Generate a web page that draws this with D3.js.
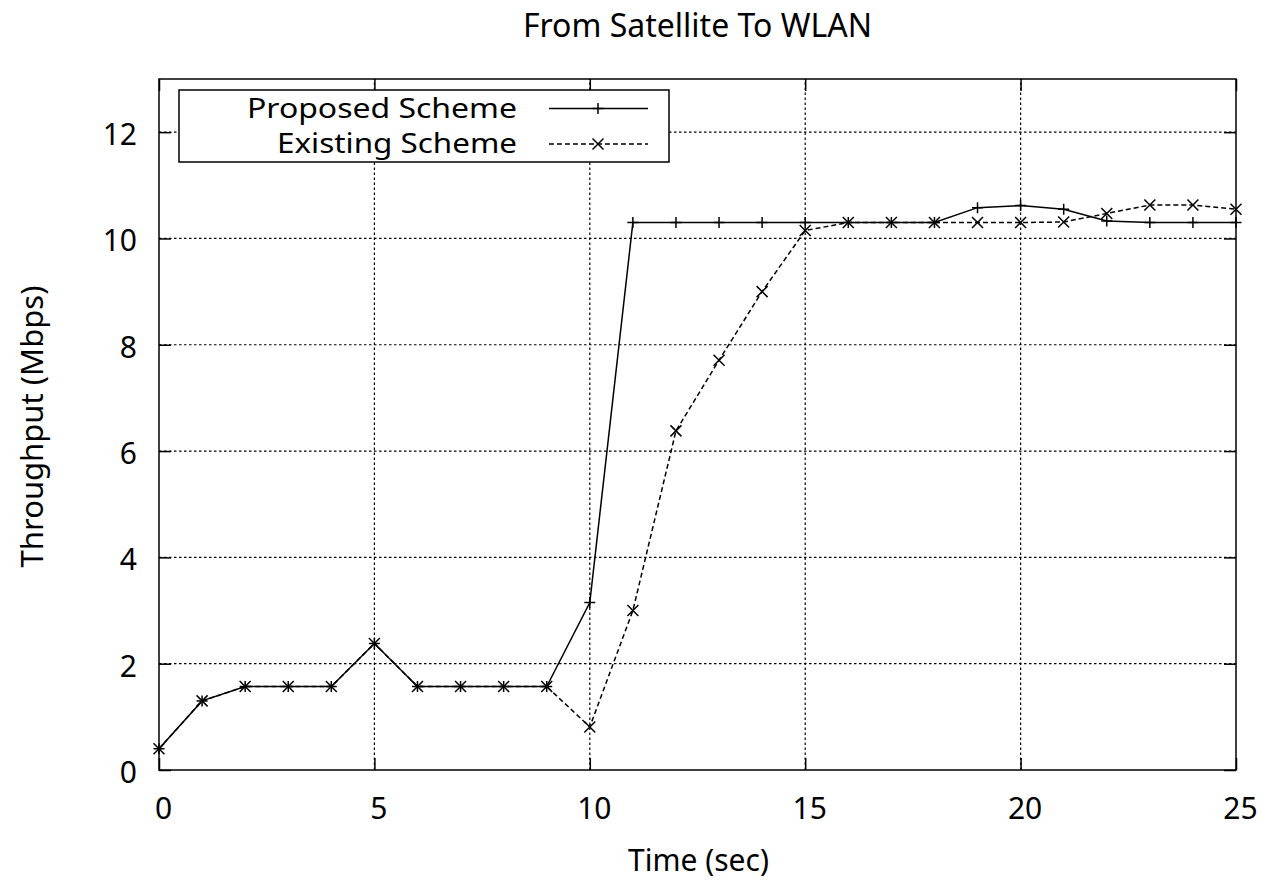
<!DOCTYPE html>
<html>
<head>
<meta charset="utf-8">
<script src="https://cdn.jsdelivr.net/npm/d3@7"></script>
<style>
  body { margin: 0; background: #fff; }
  svg text { font-family: 'Noto Sans', sans-serif; fill: #000; }
</style>
</head>
<body>
<svg id="chart" width="1263" height="881"></svg>
<script>
// data
let times = [0, 1, 2, 3, 4, 5, 6, 7, 8, 9, 10, 11, 12, 13, 14, 15, 16, 17, 18, 19, 20, 21, 22, 23, 24, 25];
let proposed = [0.4, 1.3, 1.57, 1.57, 1.57, 2.38, 1.57, 1.57, 1.57, 1.57, 3.15, 10.3, 10.3, 10.3, 10.3, 10.3, 10.3, 10.3, 10.3, 10.58, 10.62, 10.55, 10.33, 10.3, 10.3, 10.3];
let existing = [0.4, 1.3, 1.57, 1.57, 1.57, 2.38, 1.57, 1.57, 1.57, 1.57, 0.81, 3.0, 6.38, 7.71, 9.0, 10.15, 10.3, 10.3, 10.3, 10.3, 10.3, 10.31, 10.47, 10.63, 10.63, 10.55];
let xTicks = [0, 5, 10, 15, 20, 25];
let yTicks = [0, 2, 4, 6, 8, 10, 12];
let seriesNames = ['Proposed Scheme', 'Existing Scheme'];

var svg = d3.select('#chart');
var pLeft = 159, pRight = 1236, pTop = 79, pBottom = 770;

var x = d3.scaleLinear().domain([0, 25]).range([pLeft, pRight]);
var y = d3.scaleLinear().domain([0, 13]).range([pBottom, pTop]);

// grid (dotted), skipping the border positions
var grid = svg.append('g').attr('class', 'grid')
    .attr('stroke', '#000').attr('stroke-width', 1.2).attr('stroke-dasharray', '2.5,2.5');
grid.selectAll('.gx').data(xTicks.filter(function(d) { return d > 0 && d < 25; }))
    .enter().append('line')
    .attr('x1', function(d) { return x(d); }).attr('x2', function(d) { return x(d); })
    .attr('y1', pBottom).attr('y2', pTop);
grid.selectAll('.gy').data(yTicks.filter(function(d) { return d > 0; }))
    .enter().append('line')
    .attr('y1', function(d) { return y(d); }).attr('y2', function(d) { return y(d); })
    .attr('x1', pLeft).attr('x2', pRight);

// inward ticks on all four sides
var tickLen = 12;
function styleAxis(g) {
    g.select('.domain').remove();
    g.selectAll('line').attr('stroke', '#000').attr('stroke-width', 1.5);
}
svg.append('g').attr('transform', 'translate(0,' + pBottom + ')')
    .call(d3.axisBottom(x).tickValues(xTicks).tickSize(-tickLen).tickPadding(0))
    .call(styleAxis)
    .call(function(g) {
        g.selectAll('text').attr('font-size', 30).attr('dx', 4).attr('dy', null)
            .attr('y', 49).style('font-family', "'Noto Sans', sans-serif");
    });
svg.append('g').attr('transform', 'translate(0,' + pTop + ')')
    .call(d3.axisTop(x).tickValues(xTicks).tickSize(-tickLen).tickFormat(''))
    .call(styleAxis);
svg.append('g').attr('transform', 'translate(' + pLeft + ',0)')
    .call(d3.axisLeft(y).tickValues(yTicks).tickSize(-tickLen).tickPadding(0))
    .call(styleAxis)
    .call(function(g) {
        g.selectAll('text').attr('font-size', 30).attr('x', -22).attr('dy', null)
            .attr('y', 12.5).style('font-family', "'Noto Sans', sans-serif");
    });
svg.append('g').attr('transform', 'translate(' + pRight + ',0)')
    .call(d3.axisRight(y).tickValues(yTicks).tickSize(-tickLen).tickFormat(''))
    .call(styleAxis);

// legend box (opaque, hides the grid behind it)
var legend = svg.append('g');
legend.append('rect').attr('x', 179).attr('y', 90).attr('width', 490).attr('height', 72)
    .attr('fill', '#fff').attr('stroke', '#000').attr('stroke-width', 1.5);

// data lines
var line = d3.line()
    .x(function(d, i) { return x(times[i]); })
    .y(function(d) { return y(d); });

svg.append('path').datum(existing)
    .attr('d', line).attr('fill', 'none').attr('stroke', '#000')
    .attr('stroke-width', 1.5).attr('stroke-dasharray', '5,3');
svg.append('path').datum(proposed)
    .attr('d', line).attr('fill', 'none').attr('stroke', '#000').attr('stroke-width', 1.5);

var m = 5.5;
function plus(g, cx, cy) {
    g.append('path').attr('d', 'M' + (cx - m) + ',' + cy + 'H' + (cx + m) + 'M' + cx + ',' + (cy - m) + 'V' + (cy + m))
        .attr('stroke', '#000').attr('stroke-width', 1.5);
}
function cross(g, cx, cy) {
    g.append('path').attr('d', 'M' + (cx - m) + ',' + (cy - m) + 'L' + (cx + m) + ',' + (cy + m) +
            'M' + (cx - m) + ',' + (cy + m) + 'L' + (cx + m) + ',' + (cy - m))
        .attr('stroke', '#000').attr('stroke-width', 1.5);
}
var pts = svg.append('g');
proposed.forEach(function(d, i) { plus(pts, x(times[i]), y(d)); });
existing.forEach(function(d, i) { cross(pts, x(times[i]), y(d)); });

// legend entries
var legY = [108.5, 144];
var legW = [270, 240];
legend.selectAll('.lt').data(seriesNames).enter().append('text')
    .attr('x', 517).attr('y', function(d, i) { return legY[i] + 9; })
    .attr('text-anchor', 'end').attr('font-size', 27)
    .attr('textLength', function(d, i) { return legW[i]; })
    .attr('lengthAdjust', 'spacingAndGlyphs')
    .text(function(d) { return d; });
legend.append('line').attr('x1', 549).attr('x2', 648).attr('y1', legY[0]).attr('y2', legY[0])
    .attr('stroke', '#000').attr('stroke-width', 1.5);
plus(legend, 598, legY[0]);
legend.append('line').attr('x1', 549).attr('x2', 648).attr('y1', legY[1]).attr('y2', legY[1])
    .attr('stroke', '#000').attr('stroke-width', 1.5).attr('stroke-dasharray', '5,3');
cross(legend, 598, legY[1]);

// border
svg.append('rect').attr('x', pLeft).attr('y', pTop).attr('width', pRight - pLeft).attr('height', pBottom - pTop)
    .attr('fill', 'none').attr('stroke', '#000').attr('stroke-width', 1.5);

// titles
svg.append('text').attr('x', (pLeft + pRight) / 2).attr('y', 37).attr('text-anchor', 'middle')
    .attr('font-size', 32).text('From Satellite To WLAN');
svg.append('text').attr('x', (pLeft + pRight) / 2 + 1).attr('y', 871).attr('text-anchor', 'middle')
    .attr('font-size', 30).text('Time (sec)');
svg.append('text').attr('transform', 'translate(43,' + ((pTop + pBottom) / 2 + 2) + ') rotate(-90)')
    .attr('text-anchor', 'middle').attr('font-size', 31).text('Throughput (Mbps)');
</script>
</body>
</html>
